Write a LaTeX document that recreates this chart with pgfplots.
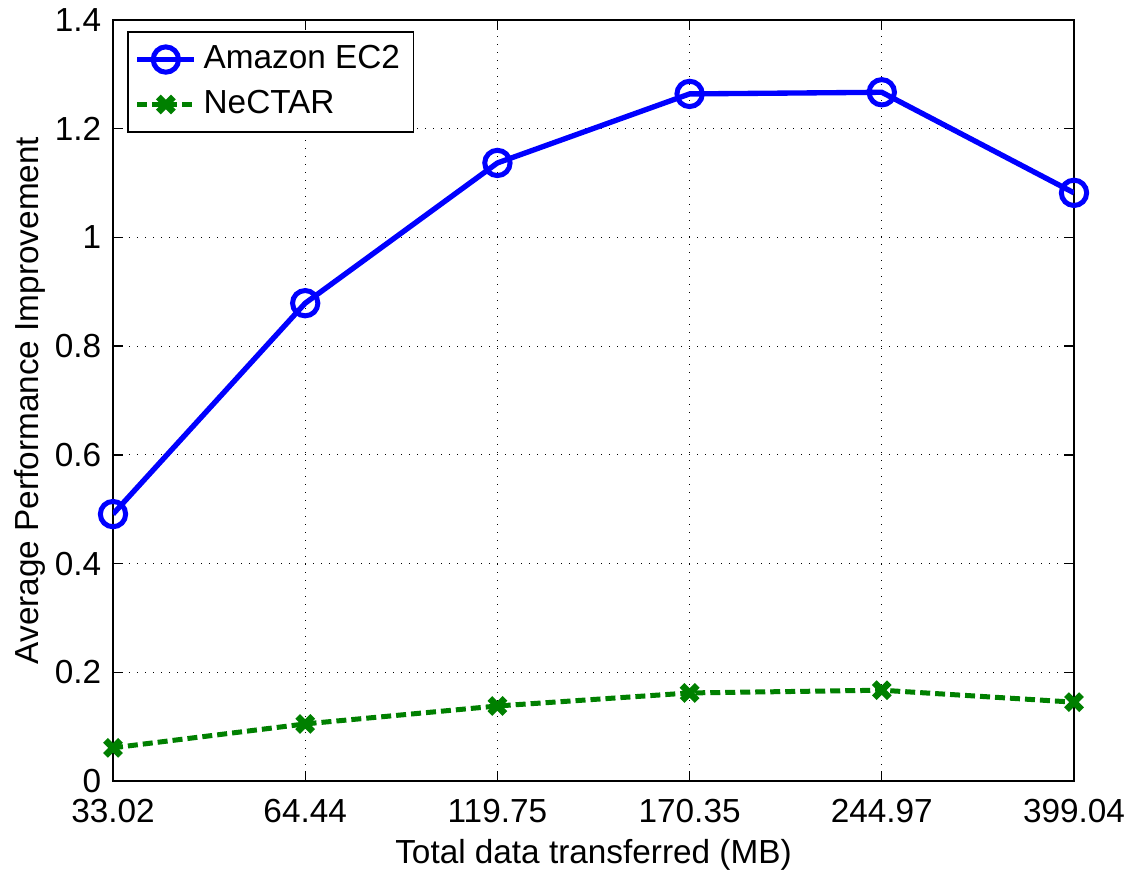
\documentclass[border=0pt]{standalone}
\usepackage{fontspec}
\setmainfont{Liberation Sans}
\usepackage{pgfplots}
\pgfplotsset{compat=1.18}
\definecolor{ecblue}{RGB}{0,0,255}
\definecolor{ncgreen}{RGB}{0,128,0}
\begin{document}
\begin{tikzpicture}
\path[use as bounding box] (-33.9pt,-27.3pt) rectangle (305.4pt,234.3pt);
\begin{axis}[
  at={(0pt,0pt)}, anchor=south west,
  scale only axis,
  width=288.3pt, height=228.3pt,
  xmin=0, xmax=5, ymin=0, ymax=1.4,
  xtick={0,1,2,3,4,5},
  xticklabels={33.02,64.44,119.75,170.35,244.97,399.04},
  ytick={0,0.2,0.4,0.6,0.8,1,1.2,1.4},
  yticklabels={0,0.2,0.4,0.6,0.8,1,1.2,1.4},
  tick align=inside,
  tick style={black, line width=0.4pt},
  major tick length=3pt,
  grid=major,
  grid style={black, dotted, line width=0.3pt},
  axis line style={black, line width=0.4pt},
  font=\fontsize{10}{12}\selectfont,
  ticklabel style={font=\fontsize{10}{12}\selectfont},
  xticklabel style={yshift=-1.8pt},
  xlabel={Total data transferred (MB)},
  ylabel={Average Performance Improvement},
  xlabel style={yshift=1.8pt},
  ylabel style={yshift=-4pt},
  legend style={at={(0.015,0.985)}, anchor=north west, draw=black, line width=0.4pt,
    font=\fontsize{10}{12}\selectfont, row sep=1pt, inner sep=2pt},
  legend cell align=left,
  /pgf/number format/assume math mode=true,
]
\addplot[ecblue, line width=1.6pt, mark=o, mark size=3.8pt, mark options={solid, line width=1.5pt}]
  coordinates {(0,0.491) (1,0.879) (2,1.137) (3,1.264) (4,1.267) (5,1.082)};
\addlegendentry{Amazon EC2}
\addplot[ncgreen, line width=1.5pt, dashed, dash pattern=on 3pt off 1.5pt, mark=x, mark size=3.2pt, mark options={solid, line width=2pt}]
  coordinates {(0,0.061) (1,0.105) (2,0.138) (3,0.162) (4,0.167) (5,0.145)};
\addlegendentry{NeCTAR}
\end{axis}
\end{tikzpicture}
\end{document}
